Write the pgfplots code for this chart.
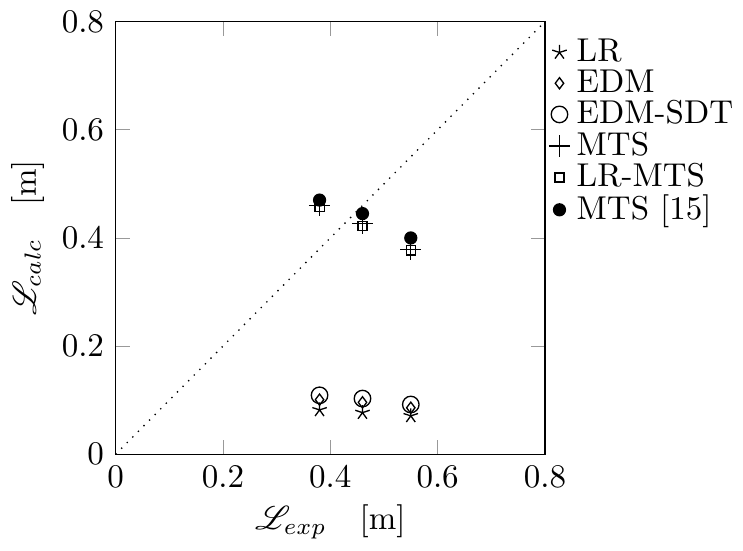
\documentclass[border=0pt]{standalone}
\usepackage{pgfplots}
\pgfplotsset{compat=1.18}
\usepackage{mathrsfs}
\begin{document}
\begin{tikzpicture}
\begin{axis}[
  scale only axis,
  width=130pt, height=131pt,
  xmin=0, xmax=0.8, ymin=0, ymax=0.8,
  xtick={0,0.2,0.4,0.6,0.8},
  ytick={0,0.2,0.4,0.6,0.8},
  xlabel={$\mathscr{L}_{exp}\quad[\mathrm{m}]$},
  ylabel={$\mathscr{L}_{calc}\quad[\mathrm{m}]$},
  xlabel style={yshift=1.5pt},
  ylabel style={yshift=-1.5pt},
  tick style={black!40},
  legend style={at={(1.0,0.985)}, anchor=north west, draw=none, fill=none,
    row sep=-3pt, inner sep=1pt},
  legend cell align=left,
  every axis plot/.append style={only marks, black, thin},
]
\addplot[dotted, forget plot, sharp plot, no marks] coordinates {(0,0) (0.8,0.8)};
% LR
\addplot[mark=star, mark size=2.3pt] coordinates {(0.38,0.082) (0.46,0.077) (0.55,0.071)};
\addlegendentry{LR}
% EDM
\addplot[mark=diamond, mark size=1.7pt] coordinates {(0.38,0.101) (0.46,0.096) (0.55,0.086)};
\addlegendentry{EDM}
% EDM-SDT
\addplot[mark=o, mark size=2.5pt] coordinates {(0.38,0.109) (0.46,0.103) (0.55,0.092)};
\addlegendentry{EDM-SDT}
% MTS
\addplot[mark=+, mark size=3.2pt] coordinates {(0.38,0.460) (0.46,0.427) (0.55,0.379)};
\addlegendentry{MTS}
% LR-MTS
\addplot[mark=square, mark size=1.4pt] coordinates {(0.38,0.458) (0.46,0.422) (0.55,0.377)};
\addlegendentry{LR-MTS}
% MTS [15]
\addplot[mark=*, mark size=1.8pt] coordinates {(0.38,0.470) (0.46,0.445) (0.55,0.400)};
\addlegendentry{MTS [15]}
\end{axis}
\end{tikzpicture}
\end{document}
